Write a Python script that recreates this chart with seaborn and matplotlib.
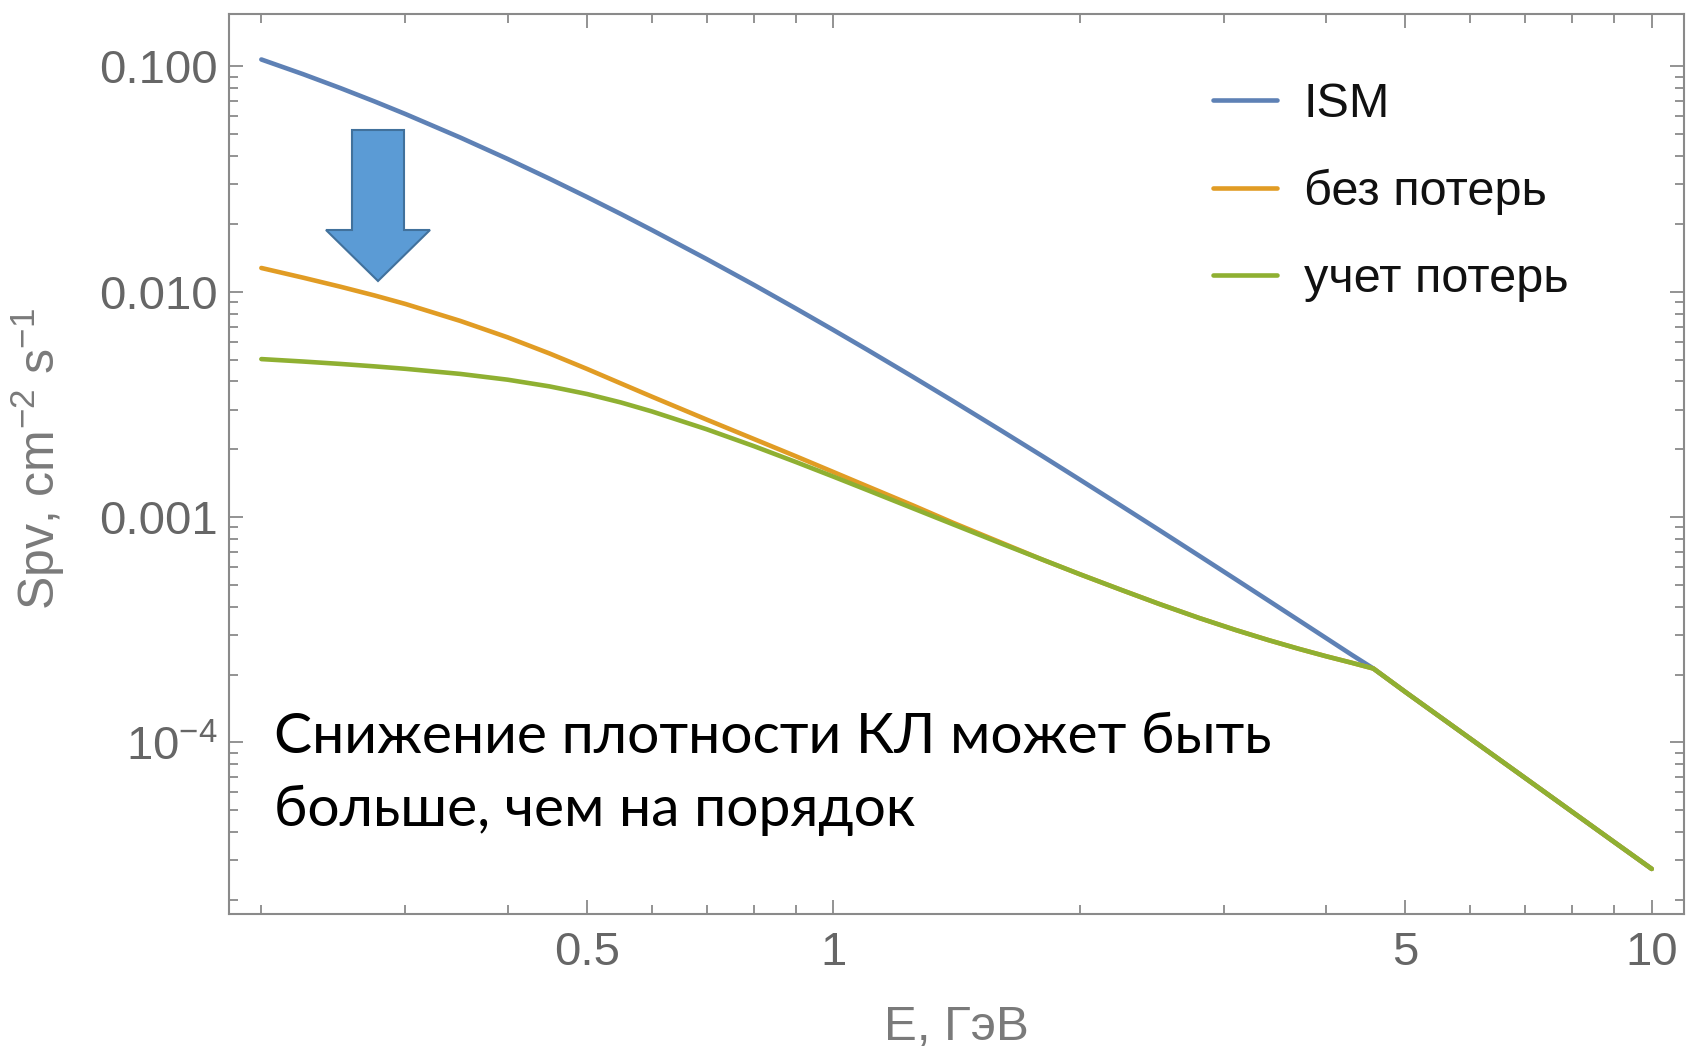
import numpy as np
import pandas as pd
import matplotlib
matplotlib.use("Agg")
import matplotlib.pyplot as plt
import seaborn as sns
from matplotlib.patches import Polygon
from matplotlib.ticker import FixedLocator, FixedFormatter, NullFormatter

# ---------------- data ----------------
energy = [0.2, 0.225, 0.25, 0.275, 0.3, 0.35, 0.4, 0.45, 0.5, 0.55, 0.6, 0.7,
          0.8, 0.9, 1.0, 1.1, 1.25, 1.4, 1.6, 1.8, 2.0, 2.25, 2.5, 2.8, 3.1,
          3.4, 3.7, 4.0, 4.3, 4.57, 5.0, 6.0, 7.0, 8.0, 9.0, 10.0]

ism = [0.1072, 0.09222, 0.07995, 0.06983, 0.06139, 0.04830, 0.03879, 0.03170,
       0.02630, 0.02211, 0.01878, 0.01396, 0.01071, 0.008419, 0.006761,
       0.005526, 0.004195, 0.003273, 0.002432, 0.001866, 0.001467, 0.001119,
       8.768e-4, 6.730e-4, 5.302e-4, 4.265e-4, 3.493e-4, 2.905e-4, 2.448e-4,
       2.128e-4, 1.675e-4, 1.041e-4, 6.965e-5, 4.915e-5, 3.614e-5, 2.748e-5]

no_loss = [0.01274, 0.011535, 0.010514, 0.009622, 0.008820, 0.007419, 0.006271,
           0.005318, 0.004542, 0.003917, 0.003423, 0.002708, 0.002219, 0.001861,
           0.001585, 0.001370, 0.001128, 9.44e-4, 7.73e-4, 6.48e-4, 5.58e-4,
           4.747e-4, 4.12e-4, 3.565e-4, 3.157e-4, 2.847e-4, 2.606e-4, 2.413e-4,
           2.257e-4, 2.128e-4, 1.675e-4, 1.041e-4, 6.965e-5, 4.915e-5, 3.614e-5,
           2.748e-5]

with_loss = [0.005023, 0.004899, 0.004780, 0.004663, 0.004548, 0.004317,
             0.004069, 0.003800, 0.003516, 0.003225, 0.002943, 0.002453,
             0.002063, 0.001755, 0.001512, 0.001318, 0.001095, 9.29e-4, 7.66e-4,
             6.48e-4, 5.58e-4, 4.747e-4, 4.12e-4, 3.565e-4, 3.157e-4, 2.847e-4,
             2.606e-4, 2.413e-4, 2.257e-4, 2.128e-4, 1.675e-4, 1.041e-4,
             6.965e-5, 4.915e-5, 3.614e-5, 2.748e-5]

series_names = ["ISM", "без потерь", "учет потерь"]
series_colors = ["#5E81B5", "#E19C24", "#8FB032"]

x_major = [0.5, 1, 5, 10]
x_major_labels = ["0.5", "1", "5", "10"]
x_minor = [0.2, 0.3, 0.4, 0.6, 0.7, 0.8, 0.9, 2, 3, 4, 6, 7, 8, 9]
y_major = [0.1, 0.01, 0.001, 1e-4]
y_major_labels = ["0.100", "0.010", "0.001", "$10^{-4}$"]

x_label = "E, ГэВ"
y_label = "Spv, cm$^{-2}$ s$^{-1}$"
note_lines = ["Снижение плотности КЛ может быть", "больше, чем на порядок"]

# ---------------- style ----------------
sns.set_theme(style="white")
plt.rcParams["font.family"] = ["Liberation Sans", "DejaVu Sans"]
plt.rcParams["mathtext.fontset"] = "custom"
plt.rcParams["mathtext.rm"] = "Liberation Sans"
plt.rcParams["mathtext.it"] = "Liberation Sans:italic"
plt.rcParams["mathtext.bf"] = "Liberation Sans:bold"

W, H = 1686, 1049
fig = plt.figure(figsize=(W / 100, H / 100), dpi=100)
fig.patch.set_facecolor("white")
left, right, top, bottom = 229, 1684, 14, 914
ax = fig.add_axes([left / W, 1 - bottom / H, (right - left) / W, (bottom - top) / H])

df = pd.DataFrame({"E": energy, series_names[0]: ism,
                   series_names[1]: no_loss, series_names[2]: with_loss})
long = df.melt(id_vars="E", var_name="series", value_name="S")

for name, col in zip(series_names, series_colors):
    sub = long[long["series"] == name]
    sns.lineplot(data=sub, x="E", y="S", ax=ax, color=col, lw=3.3,
                 label=name, estimator=None, sort=True)

ax.set_xscale("log")
ax.set_yscale("log")
ax.set_xlim(0.1826, 10.95)
ax.set_ylim(1.734e-5, 0.1706)

frame_col = "#8a8a8a"
for sp in ax.spines.values():
    sp.set_color(frame_col)
    sp.set_linewidth(1.5)
    sp.set_visible(True)

ax.xaxis.set_major_locator(FixedLocator(x_major))
ax.xaxis.set_major_formatter(FixedFormatter(x_major_labels))
ax.xaxis.set_minor_locator(FixedLocator(x_minor))
ax.xaxis.set_minor_formatter(NullFormatter())
ax.yaxis.set_major_locator(FixedLocator(y_major))
ax.yaxis.set_major_formatter(FixedFormatter(y_major_labels))
y_minor = [m * 10.0 ** d for d in range(-5, 0) for m in range(2, 10)]
ax.yaxis.set_minor_locator(FixedLocator(y_minor))
ax.yaxis.set_minor_formatter(NullFormatter())

ax.tick_params(which="both", direction="in", top=True, right=True,
               bottom=True, left=True, color=frame_col, width=1.3,
               labelcolor="#666666", labelsize=34)
ax.tick_params(which="major", length=10)
ax.tick_params(which="minor", length=6.5)
ax.tick_params(axis="y", which="major", pad=8)
ax.tick_params(axis="x", which="major", pad=12)

ax.set_xlabel(x_label, fontsize=35.5, color="#7a7a7a")
ax.set_ylabel(y_label, fontsize=36, color="#7a7a7a")
ax.xaxis.set_label_coords(0.5, -0.101)
ax.yaxis.set_label_coords(-0.111, 0.506)
ax.grid(False)

handles, labels = ax.get_legend_handles_labels()
leg = ax.legend(handles, labels, loc="upper left",
                bbox_to_anchor=(1213 / W, 1 - 82 / H), bbox_transform=fig.transFigure,
                frameon=False, fontsize=35, handlelength=1.32, handletextpad=0.55,
                labelspacing=0.86, borderpad=0, borderaxespad=0)
for t in leg.get_texts():
    t.set_color("#111111")

# block arrow (slide decoration)
arrow_px = [(352, 130), (404, 130), (404, 230), (430, 230), (378, 281),
            (326, 230), (352, 230)]
poly = Polygon([(x / W, 1 - y / H) for x, y in arrow_px], closed=True,
               transform=fig.transFigure, facecolor="#5B9BD5",
               edgecolor="#41719C", lw=1.5, zorder=5)
fig.patches.append(poly)

# annotation text
fig.text(274 / W, 1 - 753 / H, note_lines[0], fontsize=41, color="black",
         family=["Lato", "DejaVu Sans"], va="baseline", ha="left")
fig.text(274 / W, 1 - 826 / H, note_lines[1], fontsize=41, color="black",
         family=["Lato", "DejaVu Sans"], va="baseline", ha="left")

fig.savefig("out.png", dpi=100, facecolor="white")
